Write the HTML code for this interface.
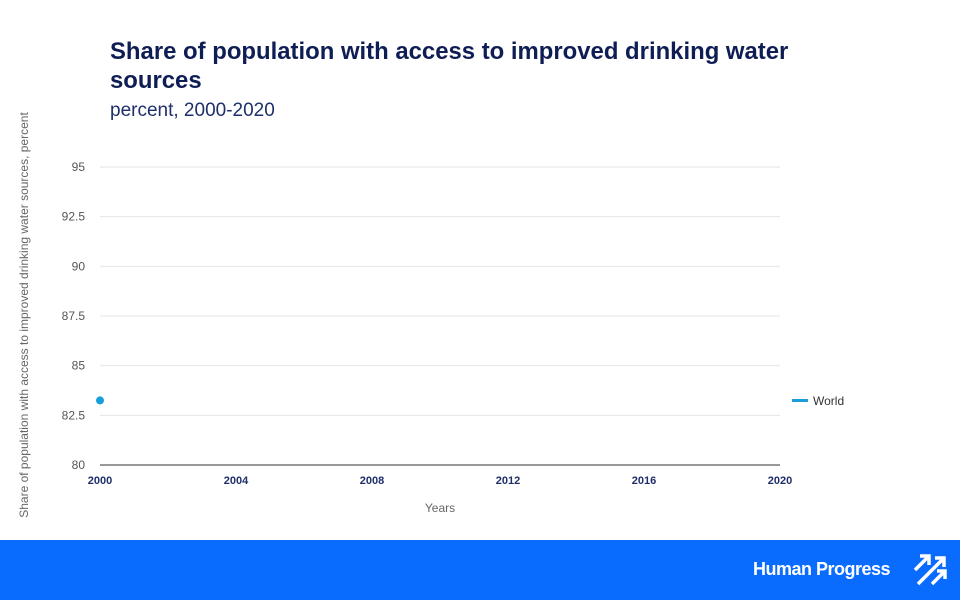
<!DOCTYPE html>
<html><head><meta charset="utf-8"><style>
html,body{margin:0;width:960px;height:600px;overflow:hidden}
body{background:#fff;font-family:"Liberation Sans",sans-serif;position:relative}
.t{position:absolute;left:110px;top:37px;font-size:23.9px;font-weight:bold;color:#0f1d55;line-height:29px;width:710px}
.s{position:absolute;left:110px;top:100px;font-size:19px;color:#1e2f6b}
.footer{position:absolute;left:0;top:540px;width:960px;height:60px;background:#0a6cff}
.logo{position:absolute;left:753px;top:19px;color:#fff;font-size:18px;font-weight:bold;letter-spacing:-0.5px}
</style></head><body>
<div class="t">Share of population with access to improved drinking water sources</div>
<div class="s">percent, 2000-2020</div>
<svg id="c" width="960" height="540" style="position:absolute;left:0;top:0"></svg>
<div class="footer">
<span class="logo">Human Progress</span>
<svg style="position:absolute;left:912px;top:13px" width="36" height="34">
<g stroke="#fff" stroke-width="3.5" fill="none"><path d="M3 17 L17 3 M8 3 H17 V12"/><path d="M6 31 L32 5 M23 5 H32 V14"/><path d="M20 31 L33 18 M25 18 H33 V26"/></g></svg>
</div>
<script>
const years=[2000];
const values=[83.25];
const yTicks=[80,82.5,85,87.5,90,92.5,95];
const xTicks=[2000,2004,2008,2012,2016,2020];
const NS="http://www.w3.org/2000/svg",svg=document.getElementById('c');
const x=v=>100+(v-2000)/20*680, y=v=>465-(v-80)/15*298;
function mk(t,a,txt){const e=document.createElementNS(NS,t);for(const k in a)e.setAttribute(k,a[k]);if(txt!=null)e.textContent=txt;svg.appendChild(e);return e;}
yTicks.forEach(v=>{
 if(v>80){const g=mk('line',{x1:100,x2:780,y1:y(v),y2:y(v),stroke:'#e6e6e6'});
 
 }
 const l=mk('text',{x:85,y:y(v)+4,'text-anchor':'end','font-size':12,fill:'#555'},v);
 
 
});
const ax=mk('line',{x1:100,x2:780,y1:465,y2:465,stroke:'#333'});


xTicks.forEach(v=>{const l=mk('text',{x:x(v),y:484,'text-anchor':'middle','font-size':11,'font-weight':'bold',fill:'#1e2f6b'},v);
 
 });
const xt=mk('text',{x:440,y:512,'text-anchor':'middle','font-size':12,fill:'#666'},'Years');


const yt=mk('text',{x:0,y:0,transform:'translate(28,315) rotate(-90)','text-anchor':'middle','font-size':12,fill:'#666'},'Share of population with access to improved drinking water sources, percent');


years.forEach((yr,i)=>{const p=mk('circle',{cx:x(yr),cy:y(values[i]),r:4,fill:'#1a9ddb'});
 
 });
const lg=mk('rect',{x:792,y:399,width:16,height:3,fill:'#1a9ddb'});


const lt=mk('text',{x:813,y:405,'font-size':12,fill:'#333'},'World');


</script>
</body></html>
